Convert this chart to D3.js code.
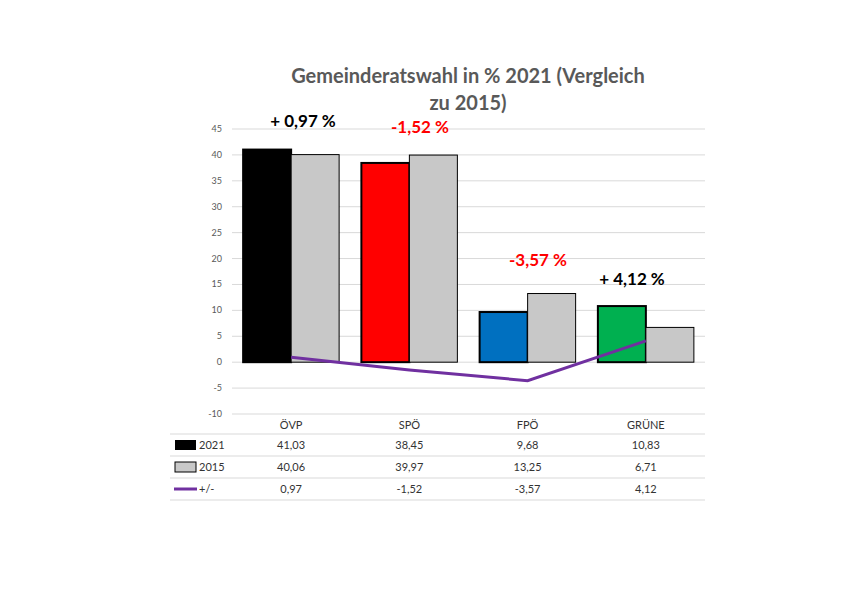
<!DOCTYPE html><html><head><meta charset="utf-8"><script src="https://cdn.jsdelivr.net/npm/d3@7"></script>
<style>body{margin:0;background:#fff}text{font-family:Lato,"Open Sans",sans-serif}</style></head><body><svg width="842" height="595"></svg>
<script>
const categories=["ÖVP","SPÖ","FPÖ","GRÜNE"];
const values2021=[41.03,38.45,9.68,10.83];
const values2015=[40.06,39.97,13.25,6.71];
const diff=[0.97,-1.52,-3.57,4.12];
const colors2021=["#000000","#FF0000","#0070C0","#00B050"];
const diffLabels=["+ 0,97 %","-1,52 %","-3,57 %","+ 4,12 %"];
const yTicks=[-10,-5,0,5,10,15,20,25,30,35,40,45];
const fmt=v=>String(v).replace(".",",");
const svg=d3.select("svg");
const x=d3.scaleBand().domain(categories).range([232,705]);
const y=d3.scaleLinear().domain([-10,45]).range([414,129]);
const bw=48;
svg.append("g").selectAll("line").data(yTicks).join("line").attr("x1",232).attr("x2",705)
 .attr("y1",d=>y(d)).attr("y2",d=>y(d)).attr("stroke","#d9d9d9");
svg.append("g").selectAll("text").data(yTicks).join("text").attr("x",222).attr("y",d=>y(d)+3)
 .attr("text-anchor","end").attr("font-size",9).attr("fill","#595959").text(d=>d);
const cx=c=>x(c)+x.bandwidth()/2;
svg.append("g").selectAll("rect").data(categories).join("rect").attr("x",c=>cx(c)-bw).attr("width",bw)
 .attr("y",(c,i)=>y(values2021[i])).attr("height",(c,i)=>y(0)-y(values2021[i]))
 .attr("fill",(c,i)=>colors2021[i]).attr("stroke","#000").attr("stroke-width",2);
svg.append("g").selectAll("rect").data(categories).join("rect").attr("x",c=>cx(c)).attr("width",bw)
 .attr("y",(c,i)=>y(values2015[i])).attr("height",(c,i)=>y(0)-y(values2015[i]))
 .attr("fill","#C8C8C8").attr("stroke","#000").attr("stroke-width",1);
svg.append("path").datum(categories).attr("fill","none").attr("stroke","#7030A0").attr("stroke-width",3)
 .attr("d",d3.line().x(c=>cx(c)).y((c,i)=>y(diff[i])));
const lblPos=[[303,127],[420,133],[538,266],[632,285]];
svg.append("g").selectAll("text").data(diffLabels).join("text").attr("x",(d,i)=>lblPos[i][0]).attr("y",(d,i)=>lblPos[i][1])
 .attr("text-anchor","middle").attr("font-size",17).attr("font-weight","bold")
 .attr("fill",(d,i)=>diff[i]<0?"#FF0000":"#000").text(d=>d);
svg.append("text").attr("x",468).attr("y",83).attr("text-anchor","middle").attr("font-size",20).attr("font-weight","bold").attr("fill","#595959").text("Gemeinderatswahl in % 2021 (Vergleich");
svg.append("text").attr("x",468).attr("y",110).attr("text-anchor","middle").attr("font-size",20).attr("font-weight","bold").attr("fill","#595959").text("zu 2015)");
// table
svg.append("g").selectAll("text").data(categories).join("text").attr("x",c=>cx(c)).attr("y",429)
 .attr("text-anchor","middle").attr("font-size",11).attr("fill","#333").text(c=>c);
const rows=[["2021",values2021],["2015",values2015],["+/-",diff]];
const rowY=[449,471,493];
[434,456,478,500].forEach(yy=>svg.append("line").attr("x1",170).attr("x2",705).attr("y1",yy).attr("y2",yy).attr("stroke","#d9d9d9"));
rows.forEach((r,ri)=>{
  svg.append("text").attr("x",199).attr("y",rowY[ri]).attr("font-size",11).attr("fill","#333").text(r[0]);
  svg.append("g").selectAll("text").data(r[1]).join("text").attr("x",(v,i)=>cx(categories[i])).attr("y",rowY[ri])
   .attr("text-anchor","middle").attr("font-size",11).attr("fill","#333").text(fmt);
});
svg.append("rect").attr("x",175).attr("y",440).attr("width",21).attr("height",10).attr("fill","#000");
svg.append("rect").attr("x",175).attr("y",462).attr("width",21).attr("height",10).attr("fill","#C8C8C8").attr("stroke","#000");
svg.append("line").attr("x1",174).attr("x2",197).attr("y1",489).attr("y2",489).attr("stroke","#7030A0").attr("stroke-width",3);
</script></body></html>
